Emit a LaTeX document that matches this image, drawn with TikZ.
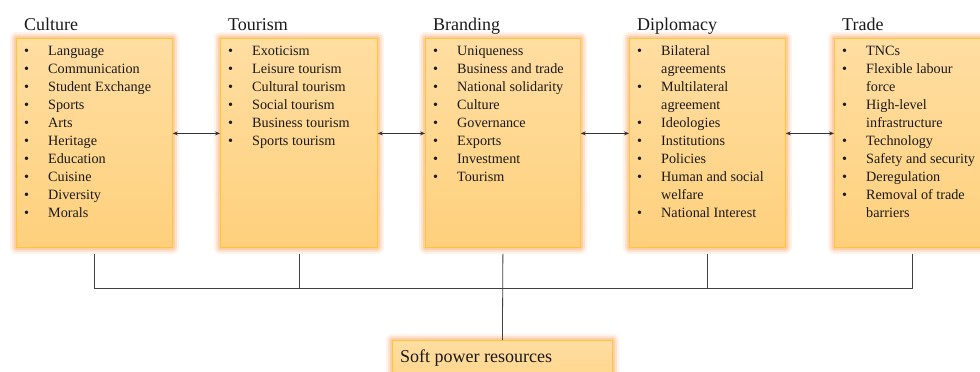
\documentclass[tikz,border=0pt]{standalone}
\usepackage{fontspec}
\setmainfont{Liberation Serif}
\usetikzlibrary{arrows.meta,calc}
\definecolor{glow}{RGB}{247,150,70}
\definecolor{boxline}{RGB}{255,196,60}
\definecolor{boxtop}{RGB}{255,222,162}
\definecolor{boxbot}{RGB}{254,208,124}
\definecolor{linec}{RGB}{64,64,64}
\newcommand{\itm}[1]{\makebox[24pt][l]{\textbullet}#1}
\newcommand{\cont}[1]{\hspace*{24pt}#1}
\tikzset{
  box/.style={rectangle, draw=boxline, line width=0.8pt, top color=boxtop, bottom color=boxbot, anchor=north west, inner sep=0pt,
    preaction={draw=glow, line width=13pt, draw opacity=0.12, line join=round},
    preaction={draw=glow, line width=9pt, draw opacity=0.17, line join=round},
    preaction={draw=glow, line width=5pt, draw opacity=0.25, line join=round}},
  itemlist/.style={anchor=north west, align=left, inner sep=0pt, font=\fontsize{14.2}{18}\selectfont, text=black!90},
  heading/.style={anchor=base west, inner sep=0pt, font=\fontsize{18}{20}\selectfont, text=black!90},
  conn/.style={draw=linec, line width=0.8pt},
  biarrow/.style={draw=black!80, line width=0.7pt, {Stealth[length=5pt,width=4pt]}-{Stealth[length=5pt,width=4pt]}}
}
\begin{document}
\begin{tikzpicture}[x=1pt,y=-1pt]
\useasboundingbox (0,0) rectangle (980,372);
\node[box, minimum width=156pt, minimum height=209pt] (culture) at (16,38) {};
\node[box, minimum width=157pt, minimum height=209pt] (tourism) at (220,38) {};
\node[box, minimum width=155pt, minimum height=209pt] (branding) at (425,38) {};
\node[box, minimum width=156pt, minimum height=209pt] (diplomacy) at (629,38) {};
\node[box, minimum width=156pt, minimum height=209pt] (trade) at (834,38) {};
\node[box, minimum width=220pt, minimum height=70pt] (soft) at (392,340) {};
\coordinate (bus) at (0,288);
\draw[conn] ([yshift=-6pt]culture.south) |- (trade.south |- bus) -- ([yshift=-6pt]trade.south);
\draw[conn] ([yshift=-6pt]tourism.south) -- (tourism.south |- bus);
\draw[conn] ([yshift=-6pt]diplomacy.south) -- (diplomacy.south |- bus);
\draw[conn] ([yshift=-6pt]branding.south) -- (soft.north);
\draw[biarrow] ([yshift=9.5pt]culture.east) -- ([yshift=9.5pt]tourism.west);
\draw[biarrow] ([yshift=9.5pt]tourism.east) -- ([yshift=9.5pt]branding.west);
\draw[biarrow] ([yshift=9.5pt]branding.east) -- ([yshift=9.5pt]diplomacy.west);
\draw[biarrow] ([yshift=9.5pt]diplomacy.east) -- ([yshift=9.5pt]trade.west);
\node[heading] (cultureh) at ([shift={(8pt,8pt)}]culture.north west) {Culture};
\node[heading] (tourismh) at ([shift={(8pt,8pt)}]tourism.north west) {Tourism};
\node[heading] (brandingh) at ([shift={(8pt,8pt)}]branding.north west) {Branding};
\node[heading] (diplomacyh) at ([shift={(8pt,8pt)}]diplomacy.north west) {Diplomacy};
\node[heading] (tradeh) at ([shift={(8pt,8pt)}]trade.north west) {Trade};
\node[itemlist] (culturel) at ([shift={(8pt,-4.4pt)}]culture.north west) {\strut\itm{Language}\\\itm{Communication}\\\itm{Student Exchange}\\\itm{Sports}\\\itm{Arts}\\\itm{Heritage}\\\itm{Education}\\\itm{Cuisine}\\\itm{Diversity}\\\itm{Morals}};
\node[itemlist] (tourisml) at ([shift={(8pt,-4.4pt)}]tourism.north west) {\strut\itm{Exoticism}\\\itm{Leisure tourism}\\\itm{Cultural tourism}\\\itm{Social tourism}\\\itm{Business tourism}\\\itm{Sports tourism}};
\node[itemlist] (brandingl) at ([shift={(8pt,-4.4pt)}]branding.north west) {\strut\itm{Uniqueness}\\\itm{Business and trade}\\\itm{National solidarity}\\\itm{Culture}\\\itm{Governance}\\\itm{Exports}\\\itm{Investment}\\\itm{Tourism}};
\node[itemlist] (diplomacyl) at ([shift={(8pt,-4.4pt)}]diplomacy.north west) {\strut\itm{Bilateral}\\\cont{agreements}\\\itm{Multilateral}\\\cont{agreement}\\\itm{Ideologies}\\\itm{Institutions}\\\itm{Policies}\\\itm{Human and social}\\\cont{welfare}\\\itm{National Interest}};
\node[itemlist] (tradel) at ([shift={(8pt,-4.4pt)}]trade.north west) {\strut\itm{TNCs}\\\itm{Flexible labour}\\\cont{force}\\\itm{High-level}\\\cont{infrastructure}\\\itm{Technology}\\\itm{Safety and security}\\\itm{Deregulation}\\\itm{Removal of trade}\\\cont{barriers}};
\node[heading] (softl) at ([shift={(8pt,-22pt)}]soft.north west) {Soft power resources};
\end{tikzpicture}
\end{document}
